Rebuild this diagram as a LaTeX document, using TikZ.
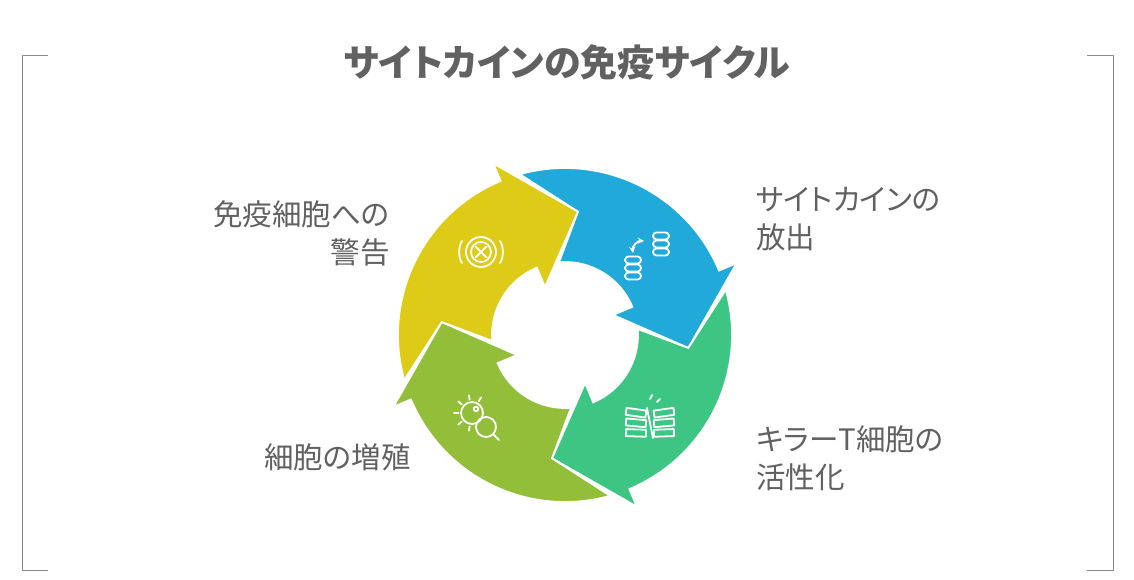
\documentclass[tikz,border=0pt]{standalone}
\usepackage{fontspec}
\setmainfont{Noto Sans CJK JP}[RawFeature=+palt]
\begin{document}
\begin{tikzpicture}[x=1pt,y=1pt,
  lbl/.style={font=\fontsize{29.5}{38}\selectfont, text=black!62, inner sep=0pt},
  ic/.style={draw=white, line width=1.8pt, line cap=round, line join=round},
  brk/.style={draw=black!45, line width=0.8pt}]
\useasboundingbox (0,0) rectangle (1134,580);
\definecolor{cy}{HTML}{DDCB17}
\definecolor{cb}{HTML}{21AAD9}
\definecolor{cg}{HTML}{3CC583}
\definecolor{cl}{HTML}{92BE3A}
\node[font=\fontsize{37}{42}\selectfont\bfseries, text=black!62] (title) at (567,518) {サイトカインの免疫サイクル};
\draw[brk] (48,525) -- (22,525) -- (22,10) -- (48,10);
\draw[brk] (1087,525) -- (1113,525) -- (1113,10) -- (1087,10);
\newcommand\cycarrow[2]{%
 \fill[#1, draw=white, line width=1.8pt, line join=miter]
  (#2+83:167) arc[start angle=#2+83, end angle=#2, radius=167]
  -- (#2:186) -- (#2-28.7:124) -- (#2:52) -- (#2:73)
  arc[start angle=#2, end angle=#2+72, radius=73]
  -- (#2+61.3:124) -- cycle;}
\begin{scope}[shift={(565,245)}]
\cycarrow{cb}{22.7}
\cycarrow{cg}{-67.3}
\cycarrow{cl}{-157.3}
\cycarrow{cy}{112.7}
\end{scope}
% yellow icon
\begin{scope}[shift={(481,328)}]
\draw[ic] (0,0) circle (15);
\draw[ic] (0,0) circle (10);
\draw[ic] (-5.5,-5.5) -- (5.5,5.5) (-5.5,5.5) -- (5.5,-5.5);
\draw[ic] (150:22) arc[start angle=150,end angle=210,radius=22];
\draw[ic] (-30:22) arc[start angle=-30,end angle=30,radius=22];
\end{scope}
% blue icon
\begin{scope}[shift={(647,330)}]
\foreach \yy in {14,6,-2} \draw[ic, rounded corners=3.5pt] (6,\yy-3.5) rectangle (22,\yy+3.5);
\foreach \yy in {-10,-18,-26} \draw[ic, rounded corners=3.5pt] (-22,\yy-3.5) rectangle (-6,\yy+3.5);
\draw[ic,<->,>=stealth] (-14,-3) to[bend left=50] (-3,9);
\end{scope}
% green icon
\begin{scope}[shift={(650,157)}]
\foreach \yy/\r in {10/-8,0/-5,-10/-2} {
 \draw[ic, rotate around={\r:(-12,\yy)}] (-24,\yy-3.5) rectangle (-4,\yy+3.5);
 \draw[ic, rotate around={-\r:(12,\yy)}] (4,\yy-3.5) rectangle (24,\yy+3.5);}
\draw[ic] (-3,15) -- (3,-15);
\draw[ic] (0,24) -- (2,28) (7,21) -- (10,24);
\end{scope}
% lime icon
\begin{scope}[shift={(480,160)}]
\draw[ic] (-8,7) circle (11);
\foreach \a in {60,100,140,180,220,260} \draw[ic] (-8,7)++(\a:13.5) -- ++(\a:4.5);
\draw[ic] (-4,11) circle (2.3);
\draw[ic] (6,-7) circle (10);
\draw[ic] (13.2,-14.2) -- (19,-20);
\end{scope}
\node[lbl, anchor=north west, align=left] (t1) at (756,393) {サイトカインの\\放出};
\node[lbl, anchor=north west, align=left] (t2) at (756,155) {キラーT細胞の\\活性化};
\node[lbl, anchor=north east, align=right] (t3) at (390,380) {免疫細胞への\\警告};
\node[lbl, anchor=north east, align=right] (t4) at (411,137) {細胞の増殖};
\end{tikzpicture}
\end{document}
